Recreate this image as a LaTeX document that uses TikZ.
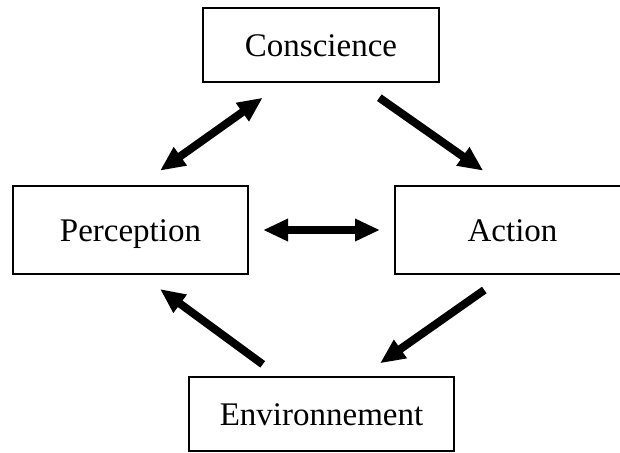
\documentclass[tikz,border=0pt]{standalone}
\usepackage{fontspec}
\setmainfont{Liberation Serif}
\usepackage{tikz}
\usetikzlibrary{arrows.meta,positioning}

\begin{document}
\begin{tikzpicture}[
  x=0.5pt, y=-0.5pt,
  box/.style={rectangle, draw, line width=0.6pt, inner sep=0pt, outer sep=0pt, minimum width=117.5pt, minimum height=44pt, text height=11pt, text depth=0pt, font=\fontsize{16.5}{19}\selectfont},
  arr/.style={-{Triangle[length=12.5pt,width=10.5pt]}, line width=4pt},
  dbl/.style={{Triangle[length=12.5pt,width=10.5pt]}-{Triangle[length=12.5pt,width=10.5pt]}, line width=4pt},
  node distance=73.5pt
]
  \useasboundingbox (0,0) rectangle (620,452);
  \node[box] (Perception) at (130.5,230) {Perception};
  \node[box, right=of Perception] (Action) {Action};
  \node[box, minimum width=118pt, minimum height=37pt] (Conscience) at (321,45) {Conscience};
  \node[box, minimum width=132.5pt, minimum height=37pt] (Environnement) at (321.5,414) {Environnement};

  \coordinate (ConsUp) at (262.7,97.7);
  \coordinate (PercUp) at (160,170.7);
  \coordinate (ConsDown) at (379.3,97.7);
  \coordinate (ActUp) at (483.3,170.7);
  \coordinate (ActDown) at (484.3,290);
  \coordinate (EnvRight) at (380,363.3);
  \coordinate (EnvLeft) at (262.7,364.3);
  \coordinate (PercDown) at (160,289);

  \draw[dbl] (PercUp) -- (ConsUp);
  \draw[arr] (ConsDown) -- (ActUp);
  \draw[arr] (ActDown) -- (EnvRight);
  \draw[arr] (EnvLeft) -- (PercDown);
  \draw[dbl, shorten <=7.5pt, shorten >=7.5pt] (Perception) -- (Action);
\end{tikzpicture}
\end{document}
